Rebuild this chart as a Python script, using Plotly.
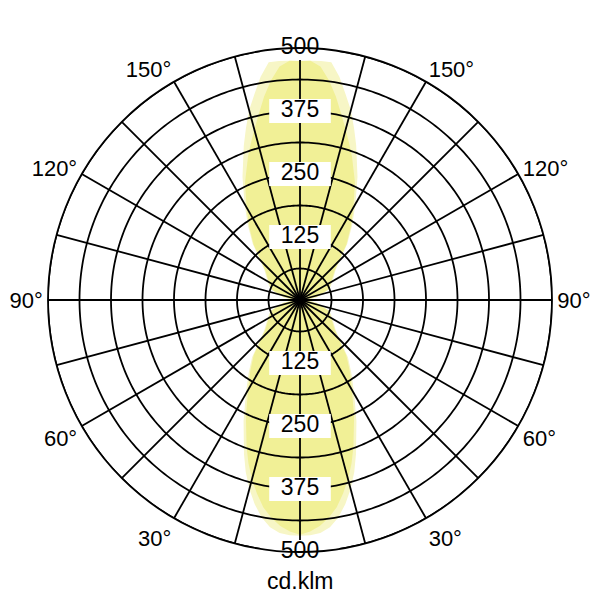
import plotly.graph_objects as go

# ---- data (cd/klm) ----
gamma = [0, 2.5, 5, 7.5, 10, 12.5, 15, 17.5, 20, 25, 30, 35, 40, 45, 50, 55, 60, 65, 70, 80, 90]
# wider curve (pale)
a_lower = [468, 467, 464, 455, 438, 415, 388, 358, 325, 265, 215, 178, 148, 112, 92, 82, 74, 68, 62, 35, 12]
a_upper = [474, 475, 476, 476, 450, 418, 390, 357, 326, 270, 220, 180, 146, 112, 92, 82, 74, 68, 62, 35, 12]
# narrower curve (saturated)
b_lower = [466, 460, 450, 436, 418, 394, 368, 340, 310, 254, 206, 172, 143, 108, 89, 79, 71, 65, 59, 33, 10]
b_upper = [474, 475, 465, 440, 410, 378, 350, 325, 302, 258, 212, 175, 143, 108, 89, 79, 71, 65, 59, 33, 10]

radial_ticks = [125, 250, 375, 500]
radial_labels = ["125", "250", "375", "500"]
grid_circles = [62.5, 125, 187.5, 250, 312.5, 375, 437.5, 500]
spoke_angles = list(range(0, 360, 15))
angle_ticks = list(range(0, 360, 15))
angle_text = {30: "30°", 60: "60°", 90: "90°", 120: "120°", 150: "150°",
              210: "150°", 240: "120°", 270: "90°", 300: "60°", 330: "30°"}
unit_label = "cd.klm"

FONT = "Liberation Sans, Arial, sans-serif"


def closed_curve(lower, upper):
    th, rr = [], []
    for g, v in zip(gamma, lower):
        th.append(g); rr.append(v)
    for g, v in zip(gamma[::-1], upper[::-1]):
        th.append(180 - g); rr.append(v)
    for g, v in zip(gamma, upper):
        th.append(180 + g); rr.append(v)
    for g, v in zip(gamma[::-1], lower[::-1]):
        th.append(360 - g); rr.append(v)
    return th, rr


fig = go.Figure()

tha, ra = closed_curve(a_lower, a_upper)
fig.add_trace(go.Scatterpolar(r=ra, theta=tha, mode="lines", fill="toself",
                              fillcolor="rgb(247,246,198)", line=dict(width=0, color="rgba(0,0,0,0)"),
                              hoverinfo="skip", showlegend=False))
thb, rb = closed_curve(b_lower, b_upper)
fig.add_trace(go.Scatterpolar(r=rb, theta=thb, mode="lines", fill="toself",
                              fillcolor="rgb(241,240,150)", line=dict(width=0, color="rgba(0,0,0,0)"),
                              hoverinfo="skip", showlegend=False))

# grid circles
circ_theta = list(range(0, 361, 1))
for c in grid_circles:
    fig.add_trace(go.Scatterpolar(r=[c] * len(circ_theta), theta=circ_theta, mode="lines",
                                  line=dict(color="black", width=1.8), hoverinfo="skip",
                                  showlegend=False))
# spokes
sr, st = [], []
for a in spoke_angles:
    sr += [0, 500, None]
    st += [a, a, None]
fig.add_trace(go.Scatterpolar(r=sr, theta=st, mode="lines", line=dict(color="black", width=1.8),
                              hoverinfo="skip", showlegend=False))

# radial labels with white boxes (top and bottom)
lab_r = radial_ticks + radial_ticks
lab_t = [180] * len(radial_ticks) + [0] * len(radial_ticks)
lab_s = radial_labels + radial_labels
box_w = [44 if v != 500 else 56 for v in lab_r]
fig.add_trace(go.Scatterpolar(r=lab_r, theta=lab_t, mode="markers",
                              marker=dict(symbol="line-ew", size=box_w, color="white", opacity=1,
                                          line=dict(width=24, color="white")),
                              cliponaxis=False, hoverinfo="skip", showlegend=False))
fig.add_trace(go.Scatterpolar(r=lab_r, theta=lab_t, mode="text", text=lab_s,
                              textposition="middle center",
                              textfont=dict(size=23, color="black", family=FONT),
                              cliponaxis=False, hoverinfo="skip", showlegend=False))

fig.update_layout(
    width=600, height=600,
    margin=dict(l=40, r=56, t=40, b=56),
    paper_bgcolor="white",
    showlegend=False,
    polar=dict(
        domain=dict(x=[0, 1], y=[0, 1]),
        bgcolor="white",
        radialaxis=dict(range=[0, 500], showgrid=False, showticklabels=False, ticks="",
                        showline=False),
        angularaxis=dict(rotation=270, direction="clockwise", tickmode="array",
                         tickvals=angle_ticks,
                         ticktext=[angle_text.get(a, "") for a in angle_ticks],
                         showgrid=False, ticks="", showline=True, linecolor="black",
                         linewidth=1.8,
                         tickfont=dict(size=22, color="black", family=FONT)),
    ),
    annotations=[dict(text=unit_label, x=0.5, y=0, xref="paper", yref="paper",
                      xanchor="center", yanchor="top", yshift=-14, showarrow=False,
                      font=dict(size=23, color="black", family=FONT))],
)

fig.write_html("out.html")
